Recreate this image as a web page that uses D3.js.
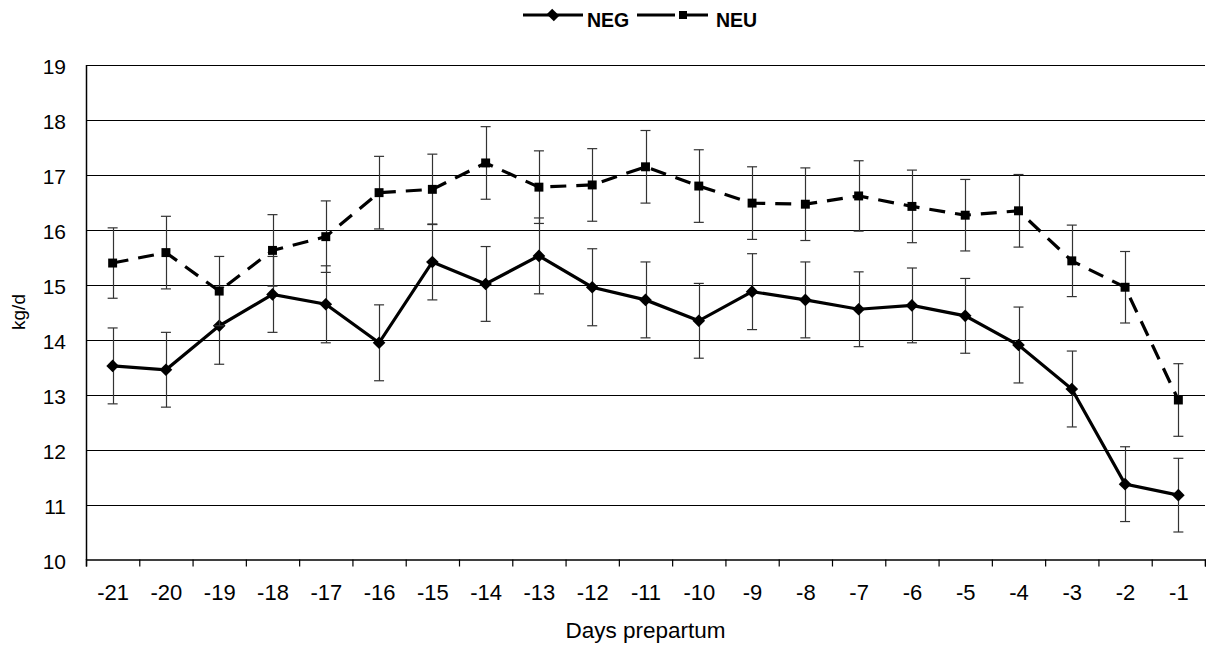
<!DOCTYPE html>
<html>
<head>
<meta charset="utf-8">
<script src="https://cdn.jsdelivr.net/npm/d3@7"></script>
<style>
  body { margin: 0; background: #fff; }
  text { font-family: "Liberation Sans", Arial, sans-serif; }
</style>
</head>
<body>
<div class="canvas"></div>
<script>
// values
var days = [-21, -20, -19, -18, -17, -16, -15, -14, -13, -12, -11, -10, -9, -8, -7, -6, -5, -4, -3, -2, -1];
var negMean = [13.52, 13.45, 14.25, 14.82, 14.64, 13.94, 15.41, 15.01, 15.52, 14.95, 14.72, 14.34, 14.87, 14.72, 14.55, 14.62, 14.43, 13.90, 13.10, 11.37, 11.17];
var negSE = [0.69, 0.68, 0.70, 0.69, 0.70, 0.69, 0.69, 0.68, 0.69, 0.70, 0.69, 0.68, 0.69, 0.69, 0.68, 0.68, 0.68, 0.69, 0.69, 0.68, 0.67];
var neuMean = [15.39, 15.58, 14.88, 15.62, 15.87, 16.67, 16.73, 17.21, 16.77, 16.81, 17.14, 16.79, 16.48, 16.46, 16.61, 16.42, 16.26, 16.34, 15.43, 14.95, 12.90];
var neuSE = [0.64, 0.66, 0.63, 0.65, 0.65, 0.66, 0.64, 0.66, 0.66, 0.66, 0.66, 0.66, 0.66, 0.66, 0.64, 0.66, 0.65, 0.66, 0.65, 0.65, 0.66];
var yTicks = [10, 11, 12, 13, 14, 15, 16, 17, 18, 19];

var W = 1206, H = 649,
    margin = { top: 64.5, right: 1, bottom: 89.5, left: 86 };

var svg = d3.select('.canvas').append('svg')
    .attr('width', W)
    .attr('height', H);

var x = d3.scaleLinear()
    .domain([-21.5, -0.5])
    .range([margin.left, W - margin.right]);

var y = d3.scaleLinear()
    .domain([10, 19])
    .range([H - margin.bottom, margin.top]);

// gridlines
svg.append('g')
    .selectAll('line')
    .data(yTicks.slice(1))
    .enter()
    .append('line')
    .attr('x1', x(-21.5))
    .attr('x2', x(-0.5))
    .attr('y1', function (d) { return Math.round(y(d)) + 0.5; })
    .attr('y2', function (d) { return Math.round(y(d)) + 0.5; })
    .attr('stroke', '#000')
    .attr('stroke-width', 1.2);

// y axis
var yAxis = svg.append('g')
    .attr('transform', 'translate(' + x(-21.5) + ',0)')
    .call(d3.axisLeft(y).tickValues(yTicks).tickSize(0).tickPadding(20)
        .tickFormat(function (d) { return String(d); }));
yAxis.select('.domain').attr('stroke', '#000').attr('stroke-width', 1.5);
yAxis.selectAll('text')
    .attr('font-size', 21)
    .attr('dy', '0.45em')
    .attr('fill', '#000');

// x axis: boundary ticks + centred labels
var xBase = y(10);
var xTicks = svg.append('g')
    .attr('transform', 'translate(0,' + xBase + ')')
    .call(d3.axisBottom(x)
        .tickValues(d3.range(-21.5, 0, 1))
        .tickSize(7)
        .tickFormat(''));
xTicks.select('.domain').attr('stroke', '#000').attr('stroke-width', 1.5);
xTicks.selectAll('.tick line').attr('stroke', '#000').attr('stroke-width', 1.2);

var xLabels = svg.append('g')
    .attr('transform', 'translate(0,' + xBase + ')')
    .call(d3.axisBottom(x).tickValues(days).tickSize(0).tickPadding(25)
        .tickFormat(function (d) { return String(d); }));
xLabels.select('.domain').remove();
xLabels.selectAll('text')
    .attr('font-size', 22)
    .attr('fill', '#000');

// titles
svg.append('text')
    .attr('x', (x(-21.5) + x(-0.5)) / 2)
    .attr('y', 638)
    .attr('text-anchor', 'middle')
    .attr('font-size', 22.5)
    .text('Days prepartum');

svg.append('text')
    .attr('transform', 'translate(25,' + ((y(10) + y(19)) / 2) + ') rotate(-90)')
    .attr('text-anchor', 'middle')
    .attr('font-size', 19)
    .text('kg/d');

// series
var series = [
    { name: 'NEG', mean: negMean, se: negSE, dash: null, rot: 45, size: 80 },
    { name: 'NEU', mean: neuMean, se: neuSE, dash: '16,10', rot: 0, size: 80 }
];

var line = d3.line()
    .x(function (d) { return x(d.day); })
    .y(function (d) { return y(d.v); });

series.forEach(function (s) {
    var pts = days.map(function (d, i) {
        return { day: d, v: s.mean[i], se: s.se[i] };
    });

    var eb = svg.append('g').attr('stroke', '#333').attr('stroke-width', 1.2);
    eb.selectAll('line.v')
        .data(pts).enter().append('line')
        .attr('class', 'v')
        .attr('x1', function (d) { return Math.round(x(d.day)) + 0.5; })
        .attr('x2', function (d) { return Math.round(x(d.day)) + 0.5; })
        .attr('y1', function (d) { return y(d.v + d.se); })
        .attr('y2', function (d) { return y(d.v - d.se); });
    [1, -1].forEach(function (sign) {
        eb.selectAll('line.c' + sign)
            .data(pts).enter().append('line')
            .attr('x1', function (d) { return x(d.day) - 5; })
            .attr('x2', function (d) { return x(d.day) + 5; })
            .attr('y1', function (d) { return y(d.v + sign * d.se); })
            .attr('y2', function (d) { return y(d.v + sign * d.se); });
    });

    svg.append('path')
        .datum(pts)
        .attr('d', line)
        .attr('fill', 'none')
        .attr('stroke', '#000')
        .attr('stroke-width', 3.2)
        .attr('stroke-dasharray', s.dash);

    svg.append('g')
        .selectAll('path')
        .data(pts).enter().append('path')
        .attr('d', d3.symbol().type(d3.symbolSquare).size(s.size))
        .attr('transform', function (d) {
            return 'translate(' + x(d.day) + ',' + y(d.v) + ') rotate(' + s.rot + ')';
        })
        .attr('fill', '#000');
});

// legend
var leg = svg.append('g').attr('transform', 'translate(0,15)');
var legItems = [
    { x0: 523, x1: 583, tx: 587, label: 'NEG', dash: null, rot: 45, size: 60 },
    { x0: 637, x1: 708, tx: 716, label: 'NEU', dash: '38,4,100', rot: 0, size: 64 }
];
legItems.forEach(function (d) {
    leg.append('line')
        .attr('x1', d.x0).attr('x2', d.x1)
        .attr('y1', 0).attr('y2', 0)
        .attr('stroke', '#000')
        .attr('stroke-width', 3.2)
        .attr('stroke-dasharray', d.dash);
    leg.append('path')
        .attr('d', d3.symbol().type(d3.symbolSquare).size(d.size))
        .attr('transform', 'translate(' + (d.rot ? (d.x0 + d.x1) / 2 : 683) + ',0) rotate(' + d.rot + ')' + (d.rot ? ' scale(1.3,1)' : ''))
        .attr('fill', '#000');
    leg.append('text')
        .attr('x', d.tx)
        .attr('y', 11.5)
        .attr('font-size', 19.5)
        .attr('font-weight', 'bold')
        .text(d.label);
});
</script>
</body>
</html>
